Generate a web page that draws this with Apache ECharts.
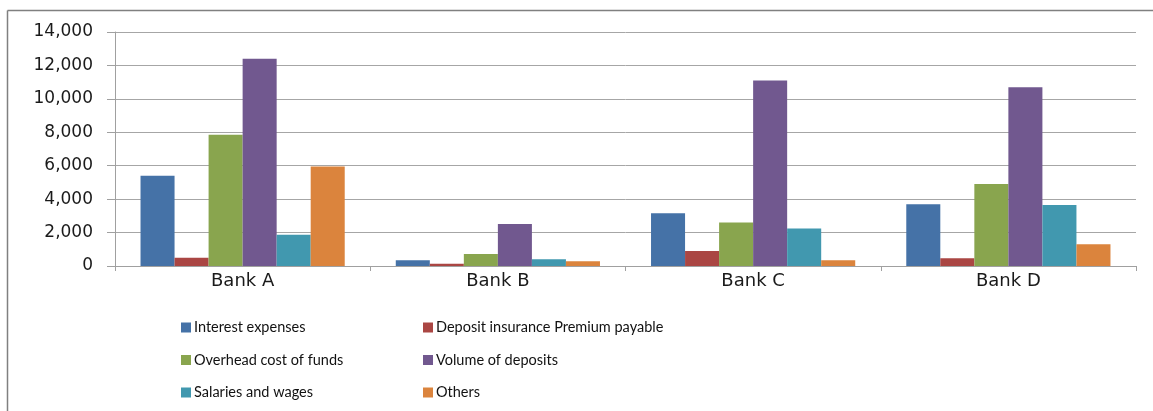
<!DOCTYPE html>
<html>
<head>
<meta charset="utf-8">
<title>Bank cost comparison</title>
<script src="https://cdn.jsdelivr.net/npm/echarts@6/dist/echarts.min.js"></script>
<style>
  html, body { margin: 0; padding: 0; background: #ffffff; }
  #chart { width: 1153px; height: 411px; }
</style>
</head>
<body>
<div id="chart"></div>
<script>
// Categories (banks) and the six cost series per bank
const banks = ['Bank A', 'Bank B', 'Bank C', 'Bank D'];

const interestExpenses   = [5400, 340, 3150, 3700];
const depositInsurance   = [500, 140, 900, 460];
const overheadCost       = [7850, 720, 2600, 4900];
const volumeOfDeposits   = [12400, 2520, 11100, 10700];
const salariesAndWages   = [1870, 400, 2250, 3650];
const others             = [5950, 280, 340, 1300];

const seriesNames = [
  'Interest expenses',
  'Deposit insurance Premium payable',
  'Overhead cost of funds',
  'Volume of deposits',
  'Salaries and wages',
  'Others'
];
const seriesValues = [
  interestExpenses, depositInsurance, overheadCost,
  volumeOfDeposits, salariesAndWages, others
];

// y-axis range and step
const yMin = 0;
const yMax = 14000;
const yStep = 2000;

const colors = ['#4572A7', '#AA4643', '#89A54E', '#71588F', '#4198AF', '#DB843D'];

const chart = echarts.init(document.getElementById('chart'), null, { renderer: 'canvas' });

const legendText = { fontFamily: 'Lato', fontSize: 14.5, color: '#111111', padding: [0, 0, 0, -2] };

chart.setOption({
  animation: false,
  color: colors,
  graphic: [
    { type: 'line', shape: { x1: 7.5, y1: 10.5, x2: 1153, y2: 10.5 },
      style: { stroke: '#808080', lineWidth: 1.5 } },
    { type: 'line', shape: { x1: 7.5, y1: 10.5, x2: 7.5, y2: 411 },
      style: { stroke: '#808080', lineWidth: 1.5 } }
  ],
  grid: { left: 115, right: 17, top: 32, bottom: 145, containLabel: false },
  legend: [
    {
      orient: 'vertical', left: 176, top: 315, itemGap: 17.5,
      itemWidth: 10, itemHeight: 10, icon: 'rect',
      data: [seriesNames[0], seriesNames[2], seriesNames[4]],
      textStyle: legendText
    },
    {
      orient: 'vertical', left: 418, top: 315, itemGap: 17.5,
      itemWidth: 10, itemHeight: 10, icon: 'rect',
      data: [seriesNames[1], seriesNames[3], seriesNames[5]],
      textStyle: legendText
    }
  ],
  xAxis: {
    type: 'category',
    data: banks,
    boundaryGap: true,
    axisLine: { show: true, lineStyle: { color: '#A0A0A0', width: 1 } },
    axisTick: { show: true, length: 5, lineStyle: { color: '#A0A0A0' } },
    axisLabel: { fontFamily: 'DejaVu Sans', fontSize: 18, color: '#1a1a1a', margin: 6 },
    splitLine: { show: false }
  },
  yAxis: {
    type: 'value',
    min: yMin, max: yMax, interval: yStep,
    axisLine: { show: true, lineStyle: { color: '#A0A0A0', width: 1 } },
    axisTick: { show: true, length: 8, lineStyle: { color: '#A0A0A0' } },
    axisLabel: {
      fontFamily: 'DejaVu Sans', fontSize: 17, color: '#1a1a1a', margin: 22,
      formatter: v => v.toLocaleString('en-US')
    },
    splitLine: { show: true, lineStyle: { color: '#A6A6A6', width: 1 } }
  },
  series: seriesNames.map((name, i) => ({
    name: name,
    type: 'bar',
    data: seriesValues[i],
    barGap: '0%',
    barCategoryGap: '20%'
  }))
});
</script>
</body>
</html>
